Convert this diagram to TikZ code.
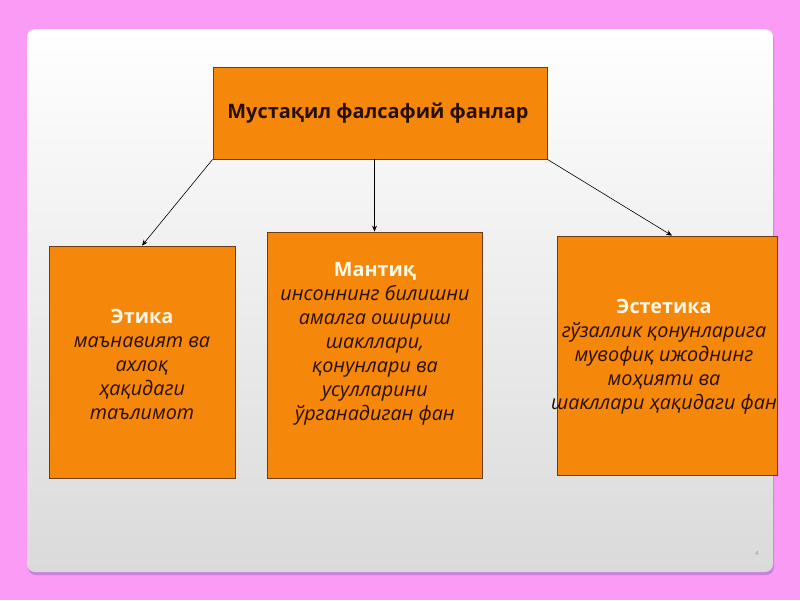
\documentclass[tikz,border=0pt]{standalone}
\usepackage{fontspec}
\setmainfont{Open Sans}
\usetikzlibrary{arrows.meta,calc}
\definecolor{pinkbg}{RGB}{250,155,246}
\definecolor{shadowc}{RGB}{200,130,220}
\definecolor{slidebot}{RGB}{218,218,218}
\definecolor{orangebox}{RGB}{245,135,10}
\definecolor{boxline}{RGB}{110,60,20}
\definecolor{bodytext}{RGB}{40,15,5}
\definecolor{titletext}{RGB}{255,248,230}
\begin{document}
\begin{tikzpicture}[x=1pt,y=-1pt,
  box/.style={draw=boxline, line width=0.8pt, fill=orangebox, inner sep=0pt},
  conn/.style={-{Stealth[length=6pt,width=5pt]}, line width=0.6pt, black},
  boxtext/.style={font=\fontsize{19.8}{24}\selectfont\itshape, text=bodytext, align=center, inner sep=0pt}]
\useasboundingbox (0,0) rectangle (800,600);
\fill[pinkbg] (0,0) rectangle (800,600);
\fill[shadowc, rounded corners=8pt] (28,32) rectangle (774,575);
\shade[top color=white, bottom color=slidebot, rounded corners=8pt] (27,29) rectangle (773,572);
% boxes
\node[box, minimum width=334pt, minimum height=92pt] (top) at (380,113) {};
\node[box, minimum width=186pt, minimum height=232pt] (left) at (142,362) {};
\node[box, minimum width=215pt, minimum height=246pt] (mid) at (374.5,355) {};
\node[box, minimum width=220pt, minimum height=239pt] (right) at (667,355.5) {};
% texts
\node[font=\fontsize{19.9}{24}\selectfont\bfseries, text=bodytext, inner sep=0pt] (toptext) at (378,113) {Мустақил фалсафий фанлар};
\node[boxtext] (lefttext) at (142,364) {{\upshape\bfseries\color{titletext}Этика}\\маънавият ва\\ахлоқ\\ҳақидаги\\таълимот};
\node[boxtext] (midtext) at (375,344) {{\upshape\bfseries\color{titletext}Мантиқ}\\инсоннинг билишни\\амалга ошириш\\шакллари,\\қонунлари ва\\усулларини\\ўрганадиган фан};
\node[boxtext] (righttext) at (664,357) {{\upshape\bfseries\color{titletext}Эстетика}\\гўзаллик қонунларига\\мувофиқ ижоднинг\\моҳияти ва\\шакллари ҳақидаги фан};
% connectors
\draw[conn] (top.south west) -- (left.north);
\draw[conn] (top.south -| mid.north) -- (mid.north);
\draw[conn] (top.south east) -- ($(right.north)+(5,0)$);
% page number
\node[font=\fontsize{6}{7}\selectfont, text=gray!80, inner sep=0pt] (pnum) at (757,553) {4};
\end{tikzpicture}
\end{document}
